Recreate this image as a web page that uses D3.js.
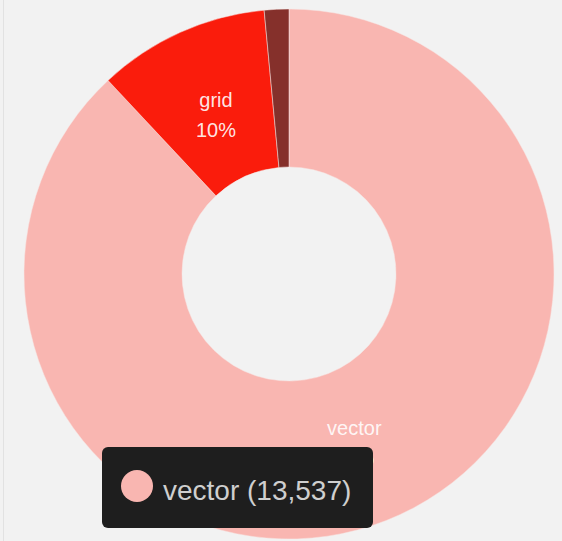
<!DOCTYPE html>
<html>
<head>
<meta charset="utf-8">
<script src="https://cdn.jsdelivr.net/npm/d3@7"></script>
<style>
  html, body { margin: 0; padding: 0; background: #f2f2f2; }
  svg { display: block; font-family: "Liberation Sans", Arial, sans-serif; }
</style>
</head>
<body>
<svg width="562" height="541"></svg>
<script>
// slice data
var categories = ["vector", "grid", "other"];
var counts = [13537, 1610, 230];
var sliceColors = ["#f9b6b1", "#fa1c0c", "#85302b"];
var showLabel = [true, true, false];

// tooltip content
var tipName = "vector";
var tipValue = 13537;

const width = 562, height = 541;
const cx = 289, cy = 274;
const outerR = 265, innerR = 107, labelR = 178;

const svg = d3.select("svg");

// faint left border
svg.append("line")
    .attr("x1", 3.5).attr("x2", 3.5)
    .attr("y1", 0).attr("y2", height)
    .attr("stroke", "#e2e2e2");

var data = categories.map(function (c, i) {
    return { name: c, value: counts[i], color: sliceColors[i], label: showLabel[i] };
});
var total = d3.sum(counts);

const pie = d3.pie().value(d => d.value);
const arc = d3.arc().innerRadius(innerR).outerRadius(outerR);
const labelArc = d3.arc().innerRadius(labelR).outerRadius(labelR);

const g = svg.append("g").attr("transform", "translate(" + cx + "," + cy + ")");

g.selectAll("path")
    .data(pie(data))
    .enter()
    .append("path")
    .attr("d", arc)
    .attr("fill", d => d.data.color)
    .attr("stroke", "#f6e6e4")
    .attr("stroke-width", 0.5);

// two-line labels: name and percentage
const labels = g.selectAll("text.lbl")
    .data(pie(data).filter(d => d.data.label))
    .enter()
    .append("text")
    .attr("class", "lbl")
    .attr("transform", d => "translate(" + labelArc.centroid(d) + ")")
    .attr("text-anchor", "middle")
    .attr("fill", "#fff")
    .attr("fill-opacity", 0.9)
    .style("font-size", "20px");

labels.append("tspan")
    .attr("x", 0).attr("y", -5)
    .text(d => d.data.name);
labels.append("tspan")
    .attr("x", 0).attr("y", 25)
    .text(d => d3.format(".0%")(d.data.value / total));

// tooltip box
const tip = svg.append("g").attr("transform", "translate(102,447)");
tip.append("rect")
    .attr("width", 271).attr("height", 81)
    .attr("rx", 6)
    .attr("fill", "#1e1e1e");
tip.append("circle")
    .attr("cx", 35).attr("cy", 39).attr("r", 16)
    .attr("fill", sliceColors[categories.indexOf(tipName)]);
tip.append("text")
    .attr("x", 61).attr("y", 53)
    .attr("fill", "#cfcfcf")
    .style("font-size", "28px")
    .text(tipName + " (" + d3.format(",")(tipValue) + ")");
</script>
</body>
</html>
